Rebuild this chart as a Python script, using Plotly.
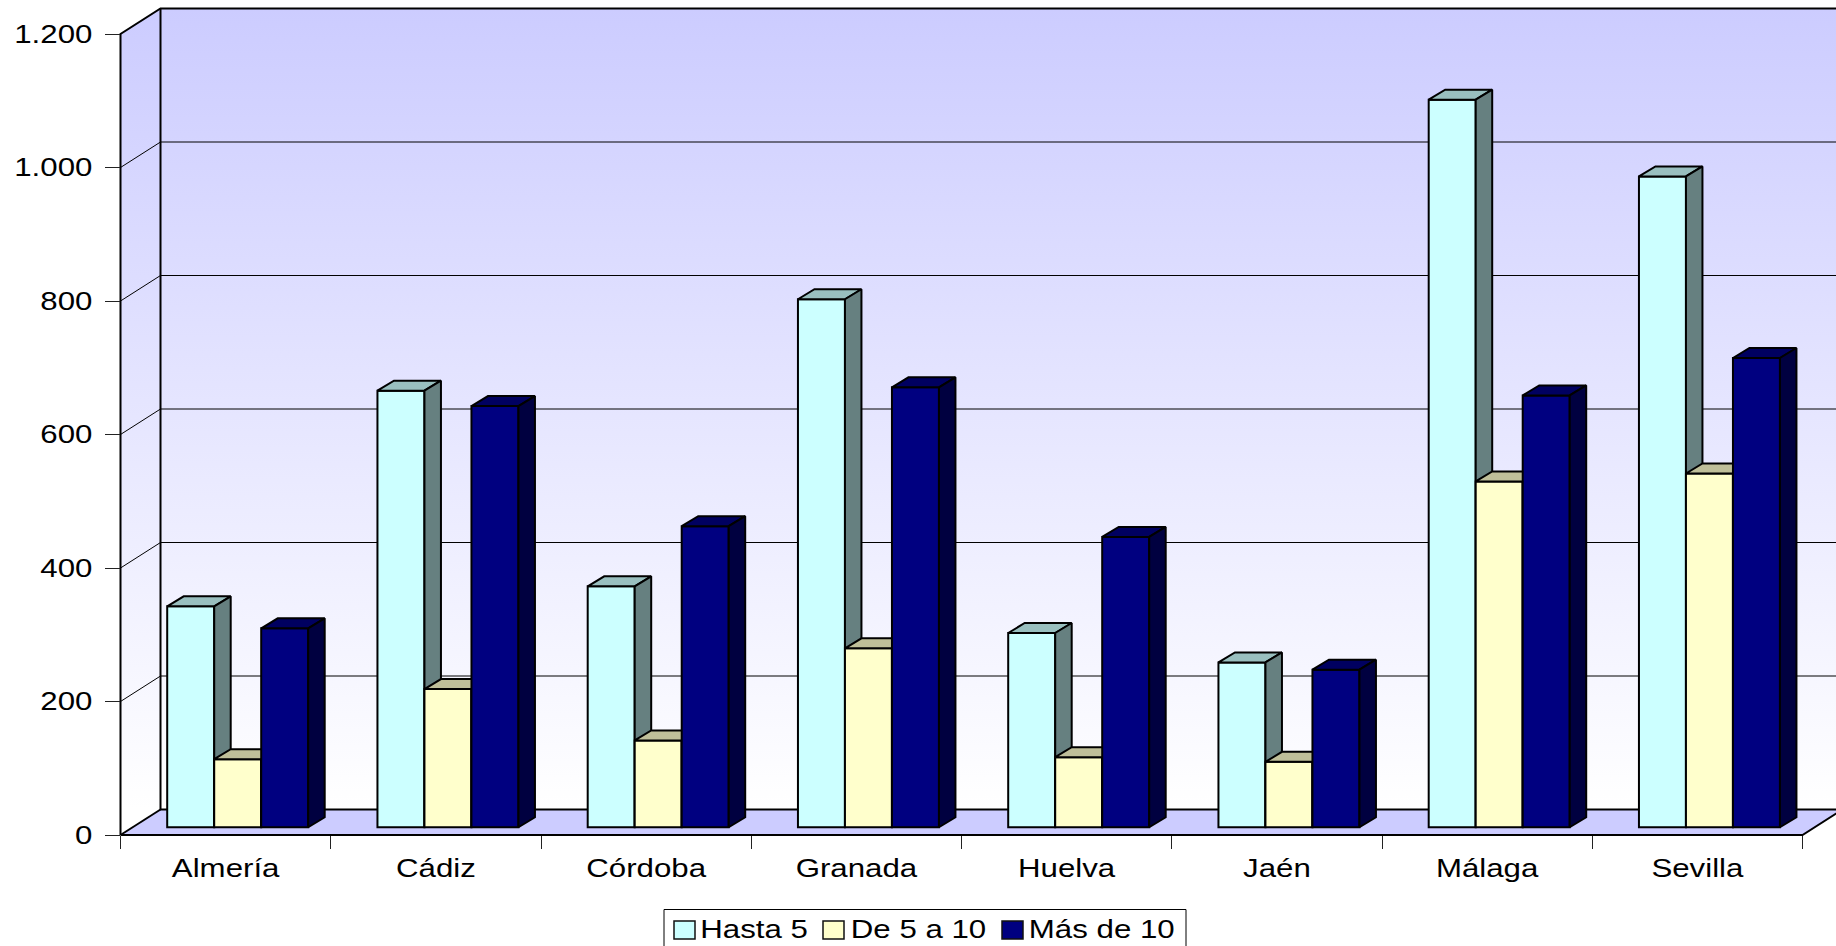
import plotly.graph_objects as go

categories = ["Almería", "Cádiz", "Córdoba", "Granada", "Huelva", "Jaén", "Málaga", "Sevilla"]
hasta_5 = [331, 654, 361, 791, 291, 247, 1090, 975]
de_5_a_10 = [102, 207, 130, 268, 105, 98, 518, 530]
mas_de_10 = [298, 631, 451, 659, 435, 236, 647, 703]
value_ticks = [0, 200, 400, 600, 800, 1000, 1200]
value_labels = ["0", "200", "400", "600", "800", "1.000", "1.200"]
series_names = ["Hasta 5", "De 5 a 10", "Más de 10"]

W, H = 1836, 946
L, R, T, B = 120.5, 33.5, 34, 111
n = len(categories)
ymax = value_ticks[-1]
px_x = (W - L - R) / n
px_y = (H - T - B) / ymax

# depth of the box and of the bars, in axis units
DX, DY = 40 / px_x, 25.5 / px_y
BDX, BDY = 16.5 / px_x, 10 / px_y
GX, GY = 12 / px_x, 7.75 / px_y
BW = 47 / px_x
GROUP_LEFT = 46.7 / px_x

FONT = "Liberation Sans"
FS = 25.6
LINE = "#000000"
BLUE = "#CCCCFF"


def poly_trace(xs, ys, fill, axes, width=1.5):
    return go.Scatter(x=xs, y=ys, mode="lines", fill="toself", fillcolor=fill,
                      line=dict(color=LINE, width=width), hoverinfo="skip",
                      showlegend=False, xaxis=axes[0], yaxis=axes[1])


def line_trace(xs, ys, width, axes):
    return go.Scatter(x=xs, y=ys, mode="lines", line=dict(color=LINE, width=width),
                      hoverinfo="skip", showlegend=False, xaxis=axes[0], yaxis=axes[1])


fig = go.Figure()

wall = ("x", "y")
for xs, ys in [
    ([DX, n + DX, n + DX, DX, DX], [DY, DY, ymax + DY, ymax + DY, DY]),
    ([0, DX, DX, 0, 0], [0, DY, ymax + DY, ymax, 0]),
]:
    fig.add_trace(go.Scatter(
        x=xs, y=ys, mode="none", fill="toself",
        fillgradient=dict(type="vertical", start=DY, stop=ymax + DY,
                          colorscale=[[0, "#FFFFFF"], [1, BLUE]]),
        hoverinfo="skip", showlegend=False, xaxis=wall[0], yaxis=wall[1]))
fig.add_trace(go.Scatter(x=[0, n, n + DX, DX, 0], y=[0, 0, DY, DY, 0], mode="none",
                         fill="toself", fillcolor=BLUE, hoverinfo="skip", showlegend=False,
                         xaxis=wall[0], yaxis=wall[1]))
gx, gy = [], []
for v in value_ticks[1:-1]:
    gx += [0, DX, n + DX, None]
    gy += [v, v + DY, v + DY, None]
fig.add_trace(line_trace(gx, gy, 1, wall))
fig.add_trace(line_trace(
    [0, 0, DX, n + DX, None, DX, DX, n + DX, None, 0, DX, None, 0, n, n + DX],
    [0, ymax, ymax + DY, ymax + DY, None, ymax + DY, DY, DY, None, 0, DY, None, 0, 0, DY],
    2, wall))

styles = [
    ("#CCFFFF", "#99BFBF", "#668080"),
    ("#FFFFCC", "#BFBF99", "#808066"),
    ("#000080", "#000060", "#000040"),
]
for s, (values, (front, top, side)) in enumerate(zip([hasta_5, de_5_a_10, mas_de_10], styles)):
    axes = (f"x{s + 2}", f"y{s + 2}")
    lefts = [i + GROUP_LEFT + s * BW for i in range(n)]
    fig.add_trace(go.Bar(
        x=[l + BW / 2 for l in lefts], y=values, base=GY, width=BW, name=series_names[s],
        marker=dict(color=front, line=dict(color=LINE, width=2)),
        showlegend=False, hovertemplate="%{y}<extra></extra>",
        xaxis=axes[0], yaxis=axes[1]))
    tx, ty, sx, sy = [], [], [], []
    for l, v in zip(lefts, values):
        t = v + GY
        r = l + BW
        tx += [l, l + BDX, r + BDX, r, l, None]
        ty += [t, t + BDY, t + BDY, t, t, None]
        sx += [r, r + BDX, r + BDX, r, r, None]
        sy += [t, t + BDY, GY + BDY, GY, t, None]
    fig.add_trace(poly_trace(tx, ty, top, axes, 2))
    fig.add_trace(poly_trace(sx, sy, side, axes, 2))

# axes carrying the ticks and the labels, on top of everything
fig.add_trace(go.Scatter(x=categories, y=[0] * n, mode="none", showlegend=False,
                         hoverinfo="skip", xaxis="x5", yaxis="y5"))


def xp(px):
    return px / W


def yp(py):
    return (H - py) / H


shapes = [dict(type="rect", xref="paper", yref="paper", x0=xp(664), x1=xp(1186),
               y0=yp(909.5), y1=yp(960), line=dict(color="#000000", width=1), fillcolor="#FFFFFF",
               layer="above")]
annotations = []
legend_spots = [(674, 754), (823, 918), (1002, 1102)]
for (sw, tc), name, st in zip(legend_spots, series_names, styles):
    shapes.append(dict(type="rect", xref="paper", yref="paper", x0=xp(sw), x1=xp(sw + 21),
                       y0=yp(939), y1=yp(921), line=dict(color="#111111", width=1.5),
                       fillcolor=st[0], layer="above"))
    annotations.append(dict(xref="paper", yref="paper", x=xp(tc), y=yp(929), text=name,
                            showarrow=False, xanchor="center", yanchor="middle",
                            font=dict(family=FONT, size=FS, color="#000000")))

layout = dict(
    width=W, height=H, margin=dict(l=0, r=0, t=0, b=0, pad=0, autoexpand=False),
    paper_bgcolor="#FFFFFF", plot_bgcolor="rgba(0,0,0,0)", showlegend=False,
    barmode="overlay", shapes=shapes, annotations=annotations,
    xaxis5=dict(type="category", range=[-0.5, n - 0.5], domain=[L / W, 1 - R / W], anchor="y5",
                tickson="boundaries", ticks="outside",
                ticklen=13, tickwidth=1, tickcolor="#222222", showgrid=False, zeroline=False,
                showline=False, ticklabelstandoff=15,
                categoryorder="array", categoryarray=categories,
                tickfont=dict(family=FONT, size=FS, color="#000000")),
    yaxis5=dict(range=[0, ymax], domain=[B / H, 1 - T / H], anchor="x5",
                tickvals=value_ticks, ticktext=value_labels, ticks="outside",
                ticklen=15, tickwidth=1, tickcolor="#222222", showgrid=False, zeroline=False,
                showline=False, ticklabelstandoff=7,
                tickfont=dict(family=FONT, size=FS, color="#000000")),
)
xr = [-L / px_x, (W - L) / px_x]
yr = [-B / px_y, (H - B) / px_y]
for k in range(1, 5):
    sfx = "" if k == 1 else str(k)
    layout[f"xaxis{sfx}"] = dict(range=xr, domain=[0, 1], visible=False, anchor=f"y{sfx}")
    layout[f"yaxis{sfx}"] = dict(range=yr, domain=[0, 1], visible=False, anchor=f"x{sfx}")
fig.update_layout(**layout)

stretch = """
document.documentElement.style.overflow='hidden';
document.body.style.margin='0';
document.querySelectorAll('.xaxislayer-above text,.yaxislayer-above text,.annotation-text').forEach(function(t){
  var len=t.getComputedTextLength();
  t.setAttribute('lengthAdjust','spacingAndGlyphs');
  t.setAttribute('textLength',len*1.22);
});
"""
fig.write_html("out.html", post_script=stretch, config=dict(displayModeBar=False))
